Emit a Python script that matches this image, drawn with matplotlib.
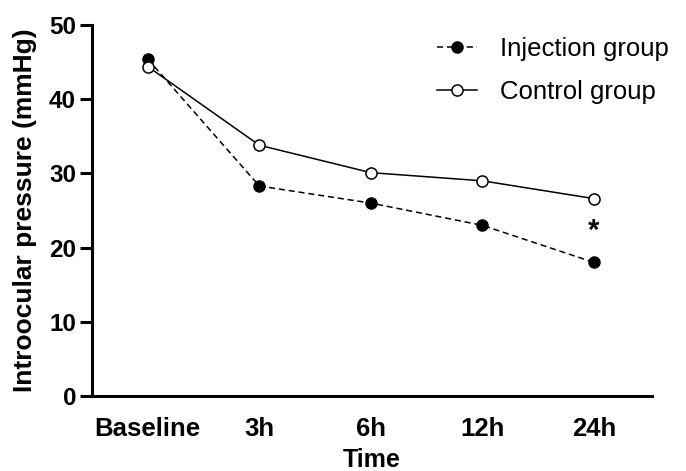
import matplotlib
matplotlib.use("Agg")
import matplotlib.pyplot as plt

categories = ["Baseline", "3h", "6h", "12h", "24h"]
injection = [45.4, 28.3, 26.0, 23.0, 18.0]
control = [44.4, 33.8, 30.1, 29.0, 26.6]
yticks = [0, 10, 20, 30, 40, 50]

plt.rcParams['font.family'] = ['Liberation Sans', 'DejaVu Sans']

fig = plt.figure(figsize=(6.86, 4.71), dpi=100)
L, R, B, T = 92, 652, 396, 25
ax = fig.add_axes([L/686, 1-B/471, (R-L)/686, (B-T)/471])

x = list(range(len(categories)))
ax.plot(x, injection, linestyle=(0, (4, 2.5)), color='black', lw=1.1,
        marker='o', markersize=8, markerfacecolor='black', markeredgecolor='black',
        label='Injection group')
ax.plot(x, control, linestyle='-', color='black', lw=1.1,
        marker='o', markersize=8, markerfacecolor='white', markeredgecolor='black',
        markeredgewidth=1.1, label='Control group')

ax.text(4, 22.2, '*', ha='center', va='center', fontsize=21, fontweight='bold')

ax.set_xlim(-0.5, 4.52)
ax.set_ylim(0, 50)
ax.set_yticks(yticks)
ax.set_xticks(x)
ax.set_xticklabels(categories)
ax.spines['top'].set_visible(False)
ax.spines['right'].set_visible(False)
for s in ['left', 'bottom']:
    ax.spines[s].set_linewidth(2.2)
ax.tick_params(axis='y', length=8.5, width=2.2, labelsize=17.5, pad=3)
ax.tick_params(axis='x', length=0, labelsize=18.5, pad=15)
for lab in ax.get_xticklabels() + ax.get_yticklabels():
    lab.set_fontweight('bold')

ax.set_xlabel('Time', fontsize=18, fontweight='bold', labelpad=5)
ax.set_ylabel('Introocular pressure (mmHg)', fontsize=19, fontweight='bold', labelpad=9)

fs = 18.5
fspx = fs * 100 / 72
leg = ax.legend(loc='upper left', bbox_to_anchor=((437 - 0.4*fspx)/686, 1-(37 - 0.4*fspx)/471),
                bbox_transform=fig.transFigure, frameon=False, fontsize=fs,
                borderaxespad=0, borderpad=0.4,
                handlelength=1.56, handletextpad=0.9, labelspacing=0.75)

fig.savefig('out.png', dpi=100)
